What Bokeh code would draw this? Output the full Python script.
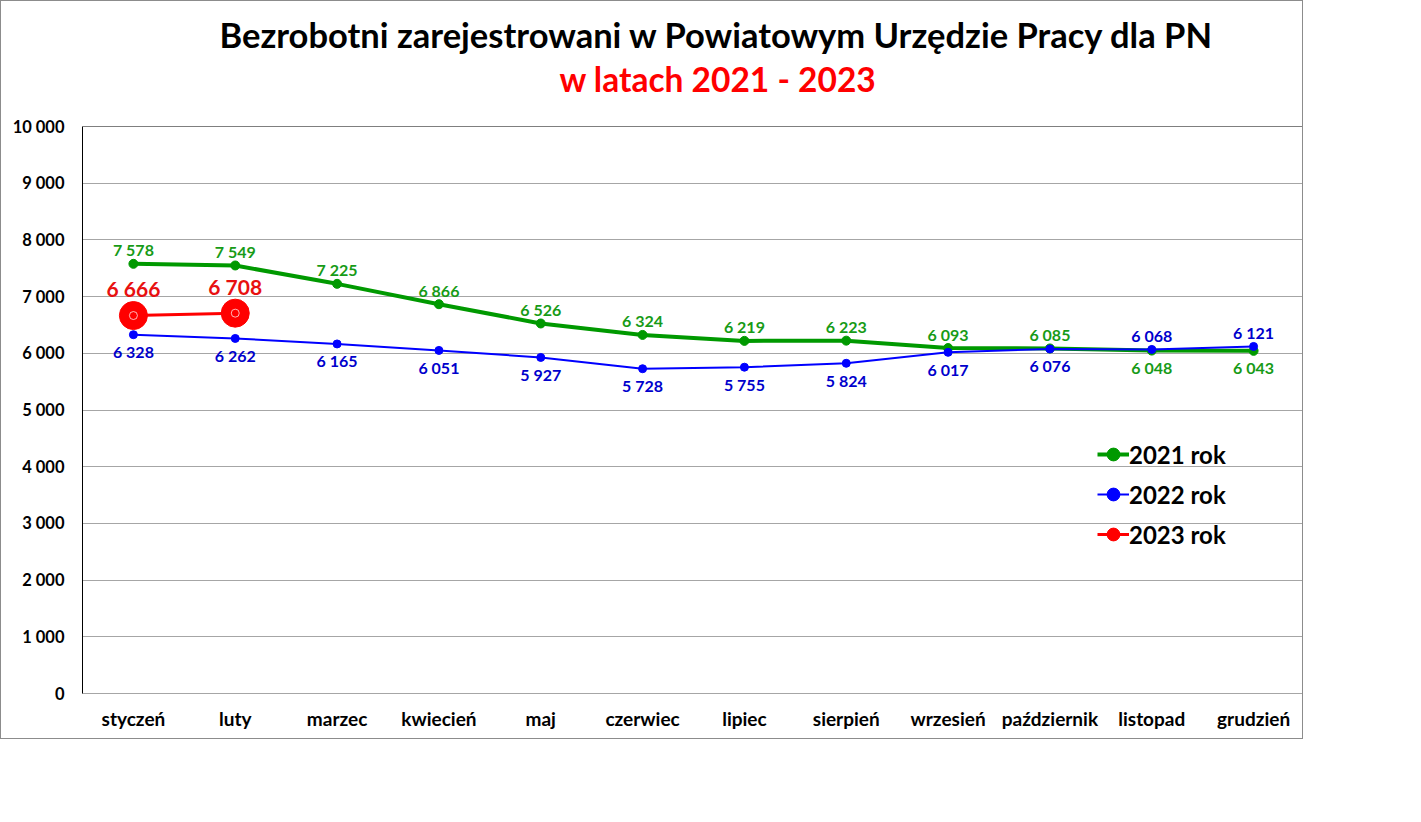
from bokeh.plotting import figure
from bokeh.models import (ColumnDataSource, LabelSet, Legend, LegendItem,
                          FixedTicker, Span, FactorRange, Range1d, Title)
from bokeh.core.properties import value
from bokeh.embed import file_html
from bokeh.resources import INLINE

months = ["styczeń", "luty", "marzec", "kwiecień", "maj", "czerwiec", "lipiec",
          "sierpień", "wrzesień", "październik", "listopad", "grudzień"]
y2021 = [7578, 7549, 7225, 6866, 6526, 6324, 6219, 6223, 6093, 6085, 6048, 6043]
y2022 = [6328, 6262, 6165, 6051, 5927, 5728, 5755, 5824, 6017, 6076, 6068, 6121]
y2023 = [6666, 6708]
y_ticks = [0, 1000, 2000, 3000, 4000, 5000, 6000, 7000, 8000, 9000, 10000]
y_tick_labels = ["0", "1 000", "2 000", "3 000", "4 000", "5 000", "6 000",
                 "7 000", "8 000", "9 000", "10 000"]
series_names = ["2021 rok", "2022 rok", "2023 rok"]
title_line1 = "Bezrobotni zarejestrowani w Powiatowym Urzędzie Pracy dla PN"
title_line2 = "w latach 2021 - 2023"

FONT = "Lato"
GREEN = "#009900"
GREEN_T = "#179B17"
BLUE = "#0000FF"
BLUE_T = "#0000CC"
RED = "#FF0000"
RED_T = "#E81010"

W, H = 1303, 739


def fmt(v):
    return f"{v:,}".replace(",", " ")


p = figure(x_range=FactorRange(*months), y_range=Range1d(0, 10000),
           width=W, height=H, output_backend="svg", toolbar_location=None,
           min_border_left=81, min_border_right=0, min_border_top=125,
           min_border_bottom=47, title=None)
p.background_fill_color = "white"
p.border_fill_color = "white"
p.outline_line_color = None
p.styles = {"border": "1px solid #8C8C8C", "box-sizing": "border-box"}

# axes
p.yaxis.ticker = FixedTicker(ticks=y_ticks)
p.yaxis.major_label_overrides = {t: l for t, l in zip(y_ticks, y_tick_labels)}
for ax in (p.xaxis[0], p.yaxis[0]):
    ax.major_tick_line_color = None
    ax.minor_tick_line_color = None
    ax.major_tick_in = 0
    ax.major_tick_out = 0
    ax.major_label_text_font = FONT
    ax.major_label_text_font_style = "bold"
    ax.major_label_text_color = "black"
p.yaxis.major_label_text_font_size = "16.5px"
p.xaxis.major_label_text_font_size = "19px"
p.yaxis.axis_line_color = "black"
p.yaxis.major_label_standoff = 18
p.xaxis.axis_line_color = "#A6A6A6"
p.xaxis.major_label_standoff = 13

p.xgrid.grid_line_color = None
p.ygrid.grid_line_color = "#A6A6A6"
p.ygrid.grid_line_width = 1

p.add_layout(Span(location=10000, dimension="width", line_color="black", line_width=1))

# series
m23 = months[:len(y2023)]
s21 = ColumnDataSource(dict(x=months, y=y2021, t=[fmt(v) for v in y2021],
                            off=[14 if a >= b else -17 for a, b in zip(y2021, y2022)]))
s22 = ColumnDataSource(dict(x=months, y=y2022, t=[fmt(v) for v in y2022],
                            off=[14 if b > a else -17 for a, b in zip(y2021, y2022)]))
s23 = ColumnDataSource(dict(x=m23, y=y2023, t=[fmt(v) for v in y2023]))

l21 = p.line("x", "y", source=s21, line_color=GREEN, line_width=4)
c21 = p.scatter("x", "y", source=s21, size=9, fill_color=GREEN, line_color=GREEN)
l22 = p.line("x", "y", source=s22, line_color=BLUE, line_width=2)
c22 = p.scatter("x", "y", source=s22, size=8, fill_color=BLUE, line_color=BLUE)
l23 = p.line("x", "y", source=s23, line_color=RED, line_width=3)
c23 = p.scatter("x", "y", source=s23, size=28, fill_color=RED, line_color=RED)
p.scatter("x", "y", source=s23, size=8, fill_color=None, line_color="white",
          line_alpha=0.7, line_width=1)

p.add_layout(LabelSet(x="x", y="y", text="t", source=s21, y_offset="off",
                      text_align="center", text_baseline="middle",
                      text_font=value(FONT), text_font_style="bold",
                      text_font_size="16px", text_color=GREEN_T))
p.add_layout(LabelSet(x="x", y="y", text="t", source=s22, y_offset="off",
                      text_align="center", text_baseline="middle",
                      text_font=value(FONT), text_font_style="bold",
                      text_font_size="16px", text_color=BLUE_T))
p.add_layout(LabelSet(x="x", y="y", text="t", source=s23, y_offset=27,
                      text_align="center", text_baseline="middle",
                      text_font=value(FONT), text_font_style="bold",
                      text_font_size="21px", text_color=RED_T))

# titles (first added sits closest to the plot)
p.add_layout(Title(text=title_line2, align="left", offset=477, standoff=55,
                   text_font=FONT, text_font_style="bold", text_font_size="33.5px",
                   text_color=RED), "above")
p.add_layout(Title(text=title_line1, align="left", offset=137, standoff=-50,
                   text_font=FONT, text_font_style="bold", text_font_size="34.5px",
                   text_color="black"), "above")

legend = Legend(items=[LegendItem(label=series_names[0], renderers=[l21, c21]),
                       LegendItem(label=series_names[1], renderers=[l22, c22]),
                       LegendItem(label=series_names[2], renderers=[l23, c23])],
                location=(1015, 139), orientation="vertical",
                border_line_color=None, background_fill_alpha=0,
                padding=0, spacing=0, margin=0,
                glyph_height=40, glyph_width=32, label_height=40,
                label_standoff=0, label_text_font=FONT,
                label_text_font_style="bold", label_text_font_size="24px",
                label_text_color="black", label_text_baseline="middle")
p.add_layout(legend)

open("out.html", "w").write(file_html(p, INLINE))
